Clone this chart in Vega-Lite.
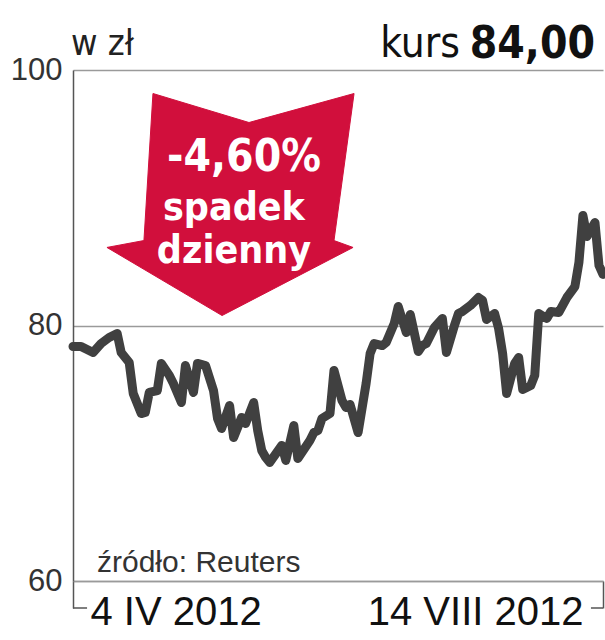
{
  "$schema": "https://vega.github.io/schema/vega-lite/v6.json",
  "width": 530,
  "height": 511,
  "autosize": "none",
  "padding": {"left": 73, "top": 70, "right": 2, "bottom": 59},
  "background": "white",
  "config": {"view": {"stroke": null}},
  "datasets": {
    "price": [
      {"date": "2012/04/04", "value": 78.36},
      {"date": "2012/04/06", "value": 78.36},
      {"date": "2012/04/07", "value": 78.2},
      {"date": "2012/04/09", "value": 77.89},
      {"date": "2012/04/11", "value": 78.59},
      {"date": "2012/04/13", "value": 79.06},
      {"date": "2012/04/15", "value": 79.37},
      {"date": "2012/04/16", "value": 77.89},
      {"date": "2012/04/18", "value": 77.1},
      {"date": "2012/04/19", "value": 74.68},
      {"date": "2012/04/21", "value": 73.11},
      {"date": "2012/04/22", "value": 73.19},
      {"date": "2012/04/23", "value": 74.76},
      {"date": "2012/04/25", "value": 74.91},
      {"date": "2012/04/26", "value": 77.03},
      {"date": "2012/04/28", "value": 76.09},
      {"date": "2012/04/29", "value": 75.46},
      {"date": "2012/05/01", "value": 73.97},
      {"date": "2012/05/02", "value": 76.87},
      {"date": "2012/05/04", "value": 74.76},
      {"date": "2012/05/05", "value": 77.03},
      {"date": "2012/05/07", "value": 76.87},
      {"date": "2012/05/09", "value": 74.91},
      {"date": "2012/05/10", "value": 72.72},
      {"date": "2012/05/11", "value": 71.94},
      {"date": "2012/05/13", "value": 73.74},
      {"date": "2012/05/14", "value": 71.23},
      {"date": "2012/05/16", "value": 72.8},
      {"date": "2012/05/17", "value": 72.33},
      {"date": "2012/05/19", "value": 73.97},
      {"date": "2012/05/20", "value": 71.78},
      {"date": "2012/05/21", "value": 70.22},
      {"date": "2012/05/22", "value": 69.67},
      {"date": "2012/05/23", "value": 69.28},
      {"date": "2012/05/26", "value": 70.61},
      {"date": "2012/05/27", "value": 69.44},
      {"date": "2012/05/29", "value": 72.17},
      {"date": "2012/05/30", "value": 69.59},
      {"date": "2012/06/02", "value": 71.0},
      {"date": "2012/06/03", "value": 71.62},
      {"date": "2012/06/04", "value": 71.78},
      {"date": "2012/06/05", "value": 72.72},
      {"date": "2012/06/07", "value": 73.11},
      {"date": "2012/06/08", "value": 76.48},
      {"date": "2012/06/10", "value": 74.13},
      {"date": "2012/06/11", "value": 73.58},
      {"date": "2012/06/12", "value": 73.82},
      {"date": "2012/06/14", "value": 71.62},
      {"date": "2012/06/16", "value": 75.46},
      {"date": "2012/06/17", "value": 77.81},
      {"date": "2012/06/18", "value": 78.59},
      {"date": "2012/06/20", "value": 78.43},
      {"date": "2012/06/21", "value": 78.67},
      {"date": "2012/06/23", "value": 80.16},
      {"date": "2012/06/24", "value": 81.49},
      {"date": "2012/06/26", "value": 79.45},
      {"date": "2012/06/27", "value": 80.86},
      {"date": "2012/06/29", "value": 77.96},
      {"date": "2012/06/30", "value": 78.43},
      {"date": "2012/07/01", "value": 78.59},
      {"date": "2012/07/03", "value": 79.84},
      {"date": "2012/07/05", "value": 80.55},
      {"date": "2012/07/06", "value": 77.89},
      {"date": "2012/07/08", "value": 80.0},
      {"date": "2012/07/09", "value": 80.94},
      {"date": "2012/07/10", "value": 81.1},
      {"date": "2012/07/12", "value": 81.57},
      {"date": "2012/07/14", "value": 82.19},
      {"date": "2012/07/15", "value": 81.96},
      {"date": "2012/07/16", "value": 80.47},
      {"date": "2012/07/18", "value": 80.94},
      {"date": "2012/07/19", "value": 79.77},
      {"date": "2012/07/20", "value": 77.81},
      {"date": "2012/07/21", "value": 74.68},
      {"date": "2012/07/23", "value": 77.03},
      {"date": "2012/07/24", "value": 77.5},
      {"date": "2012/07/25", "value": 74.99},
      {"date": "2012/07/27", "value": 75.3},
      {"date": "2012/07/28", "value": 76.09},
      {"date": "2012/07/29", "value": 80.94},
      {"date": "2012/07/31", "value": 80.55},
      {"date": "2012/08/01", "value": 81.1},
      {"date": "2012/08/03", "value": 81.02},
      {"date": "2012/08/05", "value": 82.19},
      {"date": "2012/08/07", "value": 83.05},
      {"date": "2012/08/08", "value": 84.93},
      {"date": "2012/08/09", "value": 88.61},
      {"date": "2012/08/10", "value": 86.97},
      {"date": "2012/08/12", "value": 88.06},
      {"date": "2012/08/13", "value": 84.7},
      {"date": "2012/08/14", "value": 84.0}
    ],
    "arrow": [
      {"i": 1, "date": "2012/04/23 22:00", "value": 98.16},
      {"i": 2, "date": "2012/05/17 20:00", "value": 95.89},
      {"i": 3, "date": "2012/06/13 00:00", "value": 98.16},
      {"i": 4, "date": "2012/06/08 00:00", "value": 86.65},
      {"i": 5, "date": "2012/06/12 18:00", "value": 86.11},
      {"i": 6, "date": "2012/05/11 03:00", "value": 80.78},
      {"i": 7, "date": "2012/04/12 11:00", "value": 86.11},
      {"i": 8, "date": "2012/04/21 16:00", "value": 86.65}
    ],
    "one": [{}]
  },
  "layer": [
    {
      "data": {"name": "price"},
      "mark": {"type": "line", "color": "#404040", "strokeWidth": 9, "strokeCap": "round", "strokeJoin": "round"},
      "encoding": {
        "x": {
          "field": "date", "type": "temporal",
          "scale": {"domain": [{"year": 2012, "month": 4, "date": 4}, {"year": 2012, "month": 8, "date": 14}]},
          "axis": {
            "values": [{"year": 2012, "month": 4, "date": 4}, {"year": 2012, "month": 8, "date": 14}],
            "labelExpr": "date(datum.value) + ' ' + ['I','II','III','IV','V','VI','VII','VIII','IX','X','XI','XII'][month(datum.value)] + ' ' + year(datum.value)",
            "title": null,
            "grid": false,
            "domainColor": "#9a9a9a",
            "domainWidth": 1.5,
            "tickColor": "#555555",
            "tickSize": 27,
            "tickWidth": 1.5,
            "labelFont": "Liberation Sans",
            "labelFontSize": 40,
            "labelColor": "#111111",
            "labelBaseline": "middle",
            "labelPadding": 4,
            "labelLimit": 0,
            "labelFlush": false,
            "labelBound": false,
            "labelOverlap": false,
            "labelAlign": {"condition": {"test": "time(datum.value) < time(datetime(2012, 5, 1))", "value": "left"}, "value": "right"},
            "labelOffset": {"condition": {"test": "time(datum.value) < time(datetime(2012, 5, 1))", "value": 17}, "value": -20}
          }
        },
        "y": {
          "field": "value", "type": "quantitative",
          "scale": {"domain": [60, 100], "nice": false, "zero": false},
          "axis": {
            "values": [60, 80, 100],
            "title": null,
            "grid": true,
            "gridColor": "#9a9a9a",
            "gridWidth": 1.5,
            "domainColor": "#555555",
            "domainWidth": 1.5,
            "ticks": false,
            "labelPadding": 11,
            "labelFont": "Liberation Sans",
            "labelFontSize": 31,
            "labelColor": "#333333",
            "labelFlush": false,
            "labelBound": false
          }
        }
      }
    },
    {
      "data": {"name": "arrow"},
      "mark": {"type": "line", "interpolate": "linear-closed", "fill": "#d10f3c", "stroke": "#d10f3c", "strokeWidth": 1},
      "encoding": {
        "x": {"field": "date", "type": "temporal"},
        "y": {"field": "value", "type": "quantitative"},
        "order": {"field": "i", "type": "quantitative"}
      }
    },
    {
      "data": {"name": "one"},
      "mark": {"type": "text", "text": "-4,60%", "font": "DejaVu Sans Condensed", "fontWeight": "bold", "fontSize": 44, "color": "white", "align": "center", "baseline": "alphabetic"},
      "encoding": {
        "x": {"datum": {"year": 2012, "month": 5, "date": 16, "hours": 14}, "type": "temporal"},
        "y": {"datum": 92.13, "type": "quantitative"}
      }
    },
    {
      "data": {"name": "one"},
      "mark": {"type": "text", "text": "spadek", "font": "DejaVu Sans Condensed", "fontWeight": "bold", "fontSize": 39, "color": "white", "align": "center", "baseline": "alphabetic"},
      "encoding": {
        "x": {"datum": {"year": 2012, "month": 5, "date": 14, "hours": 2}, "type": "temporal"},
        "y": {"datum": 88.22, "type": "quantitative"}
      }
    },
    {
      "data": {"name": "one"},
      "mark": {"type": "text", "text": "dzienny", "font": "DejaVu Sans Condensed", "fontWeight": "bold", "fontSize": 39, "color": "white", "align": "center", "baseline": "alphabetic"},
      "encoding": {
        "x": {"datum": {"year": 2012, "month": 5, "date": 14, "hours": 2}, "type": "temporal"},
        "y": {"datum": 84.93, "type": "quantitative"}
      }
    },
    {
      "data": {"name": "one"},
      "mark": {"type": "text", "text": "w zł", "font": "DejaVu Sans Condensed", "fontSize": 36, "color": "#222222", "align": "left", "baseline": "alphabetic", "dx": -2, "dy": -15},
      "encoding": {
        "x": {"datum": {"year": 2012, "month": 4, "date": 4}, "type": "temporal"},
        "y": {"datum": 100, "type": "quantitative"}
      }
    },
    {
      "data": {"name": "one"},
      "mark": {"type": "text", "text": "84,00", "font": "DejaVu Sans Condensed", "fontWeight": "bold", "fontSize": 44, "color": "#111111", "align": "right", "baseline": "alphabetic", "dx": -8, "dy": -12},
      "encoding": {
        "x": {"datum": {"year": 2012, "month": 8, "date": 14}, "type": "temporal"},
        "y": {"datum": 100, "type": "quantitative"}
      }
    },
    {
      "data": {"name": "one"},
      "mark": {"type": "text", "text": "kurs", "font": "DejaVu Sans Condensed", "fontSize": 42, "color": "#111111", "align": "right", "baseline": "alphabetic", "dx": -143, "dy": -13},
      "encoding": {
        "x": {"datum": {"year": 2012, "month": 8, "date": 14}, "type": "temporal"},
        "y": {"datum": 100, "type": "quantitative"}
      }
    },
    {
      "data": {"name": "one"},
      "mark": {"type": "text", "text": "źródło: Reuters", "font": "Liberation Sans", "fontSize": 30, "color": "#333333", "align": "left", "baseline": "alphabetic", "dx": 24, "dy": -9},
      "encoding": {
        "x": {"datum": {"year": 2012, "month": 4, "date": 4}, "type": "temporal"},
        "y": {"datum": 60, "type": "quantitative"}
      }
    },
    {
      "data": {"name": "one"},
      "mark": {"type": "rule", "color": "#555555", "strokeWidth": 1.5, "yOffset": 27},
      "encoding": {
        "x": {"datum": {"year": 2012, "month": 4, "date": 4}, "type": "temporal"},
        "x2": {"datum": {"year": 2012, "month": 4, "date": 7, "hours": 12}},
        "y": {"datum": 60, "type": "quantitative"}
      }
    },
    {
      "data": {"name": "one"},
      "mark": {"type": "rule", "color": "#555555", "strokeWidth": 1.5, "yOffset": 27},
      "encoding": {
        "x": {"datum": {"year": 2012, "month": 8, "date": 11}, "type": "temporal"},
        "x2": {"datum": {"year": 2012, "month": 8, "date": 14}},
        "y": {"datum": 60, "type": "quantitative"}
      }
    }
  ]
}
